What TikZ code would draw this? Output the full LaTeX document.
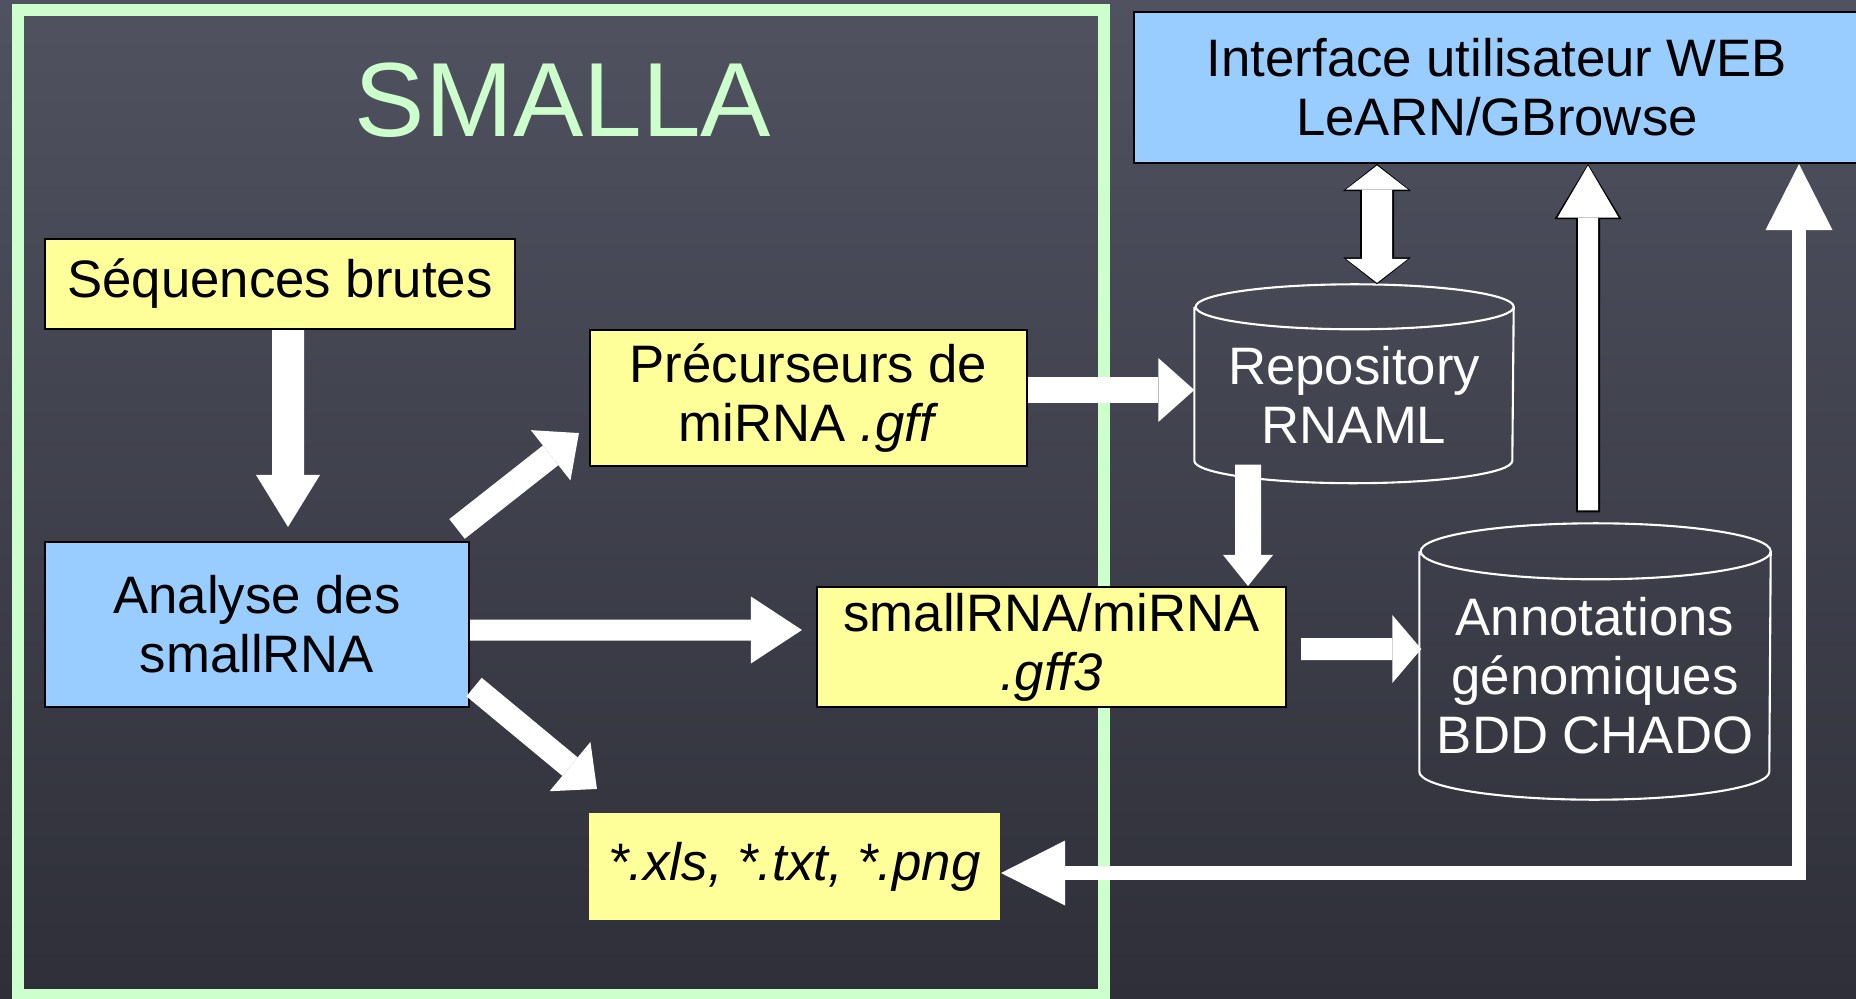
\documentclass[tikz,border=0pt]{standalone}
\usepackage{fontspec}
\setmainfont{Liberation Sans}
\usetikzlibrary{arrows.meta, positioning}

\definecolor{bgtop}{RGB}{80,82,96}
\definecolor{bgbot}{RGB}{46,47,56}
\definecolor{smgreen}{RGB}{204,255,204}
\definecolor{boxyellow}{RGB}{255,255,153}
\definecolor{boxblue}{RGB}{153,204,255}

\begin{document}
\begin{tikzpicture}[
    box/.style={rectangle, draw=black, line width=0.6pt, align=center, inner sep=0pt, font=\fontsize{15}{16.8}\selectfont},
    yellowbox/.style={box, fill=boxyellow},
    bluebox/.style={box, fill=boxblue},
    dbase/.style={rectangle, inner sep=0pt, align=center, text=white, font=\fontsize{15}{16.8}\selectfont},
    dbline/.style={draw=white, line width=0.6pt},
    flow/.style n args={4}{draw=#4, line width=#1, -{Triangle[width=#2, length=#3, line width=0pt]}},
    flowboth/.style n args={4}{draw=#4, line width=#1, {Triangle[width=#2, length=#3, line width=0pt]}-{Triangle[width=#2, length=#3, line width=0pt]}},
  ]
  \useasboundingbox (0,0) rectangle (18.56,9.98);
  \shade[top color=bgtop, bottom color=bgbot] (0,0) rectangle (18.56,9.98);

  % SMALLA frame
  \draw[smgreen, line width=0.12cm] (0.18,9.88) rectangle (11.04,0.03);
  \node[text=smgreen, font=\fontsize{30}{34}\selectfont] (title) at (5.63,8.98) {SMALLA};

  % boxes
  \node[yellowbox, minimum width=4.70cm, minimum height=0.90cm] (seq) at (2.80,7.14) {Séquences brutes};
  \node[bluebox, minimum width=4.24cm, minimum height=1.65cm] (ana) at (2.57,3.735) {Analyse des\\smallRNA};
  \node[yellowbox, minimum width=4.37cm, minimum height=1.36cm] (pre) at (8.085,6.00) {Précurseurs de\\miRNA \textit{.gff}};
  \node[yellowbox, minimum width=4.69cm, minimum height=1.20cm] (sm) at (10.515,3.51) {smallRNA/miRNA\\\textit{.gff3}};
  \node[yellowbox, draw=none, minimum width=4.11cm, minimum height=1.07cm] (out) at (7.945,1.315) {\textit{*.xls, *.txt, *.png}};
  \node[bluebox, minimum width=7.26cm, minimum height=1.51cm] (iface) at (14.97,9.105) {Interface utilisateur WEB\\LeARN/GBrowse};

  % databases
  \node[dbase, minimum width=3.18cm, minimum height=1.30cm] (repo) at (13.54,6.03) {Repository\\RNAML};
  \draw[dbline] ([yshift=0.225cm]repo.north west) -- (repo.south west)
    arc[start angle=180, end angle=360, x radius=1.59cm, y radius=0.225cm]
    -- ([yshift=0.225cm]repo.north east)
    arc[start angle=0, end angle=360, x radius=1.59cm, y radius=0.225cm];
  \node[dbase, minimum width=3.50cm, minimum height=1.91cm] (annot) at (15.95,3.225) {Annotations\\génomiques\\BDD CHADO};
  \draw[dbline] ([yshift=0.28cm]annot.north west) -- (annot.south west)
    arc[start angle=180, end angle=360, x radius=1.75cm, y radius=0.28cm]
    -- ([yshift=0.28cm]annot.north east)
    arc[start angle=0, end angle=360, x radius=1.75cm, y radius=0.28cm];

  % arrows
  \draw[flow={0.32cm}{0.64cm}{0.52cm}{white}] ([xshift=0.08cm]seq.south) -- ([xshift=0.31cm, yshift=0.14cm]ana.north);
  \draw[flow={0.25cm}{0.64cm}{0.36cm}{white}] ([shift={(-0.13cm,0.12cm)}]ana.north east) -- ([shift={(-0.10cm,0.34cm)}]pre.south west);
  \draw[flow={0.21cm}{0.67cm}{0.51cm}{white}] ([yshift=-0.055cm]ana.east) -- ([shift={(-0.14cm,0.17cm)}]sm.west);
  \draw[flow={0.24cm}{0.64cm}{0.35cm}{white}] ([shift={(0.04cm,0.21cm)}]ana.south east) -- ([shift={(0.09cm,0.23cm)}]out.north west);
  \draw[flow={0.26cm}{0.64cm}{0.36cm}{white}] ([yshift=0.08cm]pre.east) -- ([yshift=0.05cm]repo.west);
  \draw[flow={0.26cm}{0.50cm}{0.31cm}{white}] ([shift={(-1.06cm,-0.04cm)}]repo.south) -- ([xshift=1.965cm]sm.north);
  \draw[flow={0.22cm}{0.68cm}{0.29cm}{white}] ([shift={(0.14cm,-0.02cm)}]sm.east) -- ([shift={(0.02cm,0.265cm)}]annot.west);

  \draw[flowboth={0.34cm}{0.68cm}{0.27cm}{black}] ([xshift=-1.20cm]iface.south) -- ([shift={(0.23cm,0.45cm)}]repo.north);
  \draw[flowboth={0.30cm}{0.62cm}{0.24cm}{white}] ([xshift=-1.20cm, yshift=-0.015cm]iface.south) -- ([shift={(0.23cm,0.465cm)}]repo.north);

  \draw[flow={0.24cm}{0.67cm}{0.55cm}{black}] ([shift={(-0.07cm,0.67cm)}]annot.north) -- ([xshift=0.91cm]iface.south);
  \draw[flow={0.20cm}{0.61cm}{0.52cm}{white}] ([shift={(-0.07cm,0.69cm)}]annot.north) -- ([xshift=0.91cm, yshift=-0.015cm]iface.south);

  \draw[white, line width=0.14cm, line join=miter,
    {Triangle[width=0.65cm, length=0.64cm, line width=0pt]}-{Triangle[width=0.67cm, length=0.66cm, line width=0pt]}]
    ([yshift=-0.065cm]out.east) -| ([xshift=3.02cm]iface.south);
\end{tikzpicture}
\end{document}
